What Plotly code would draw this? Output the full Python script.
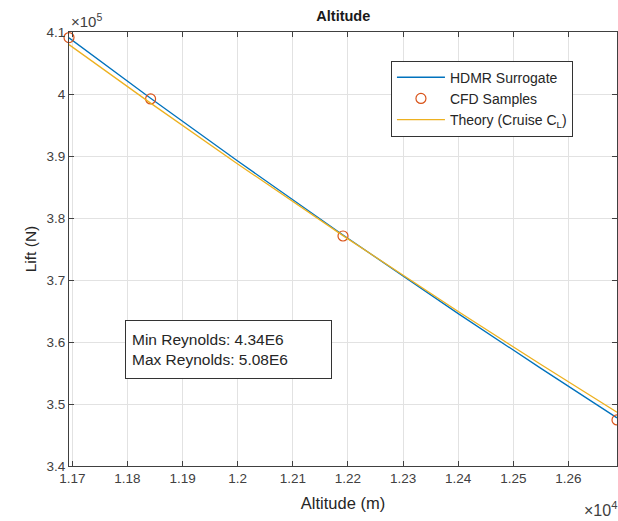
import plotly.graph_objects as go

# Altitude sweep: surrogate curve, CFD sample points and cruise-CL theory
altitude_curve = [11694, 11842, 12000, 12191, 12400, 12550, 12688]
hdmr_lift = [4.0906e5, 3.9933e5, 3.8919e5, 3.7726e5, 3.6458e5, 3.5574e5, 3.4777e5]
theory_lift = [4.0796e5, 3.9853e5, 3.8871e5, 3.7716e5, 3.6491e5, 3.5637e5, 3.4867e5]

cfd_altitude = [11694, 11842, 12191, 12688]
cfd_lift = [4.091e5, 3.992e5, 3.771e5, 3.4743e5]

x_ticks = [11700, 11800, 11900, 12000, 12100, 12200, 12300, 12400, 12500, 12600]
x_tick_text = ["1.17", "1.18", "1.19", "1.2", "1.21", "1.22", "1.23", "1.24", "1.25", "1.26"]
y_ticks = [3.4e5, 3.5e5, 3.6e5, 3.7e5, 3.8e5, 3.9e5, 4.0e5, 4.1e5]
y_tick_text = ["3.4", "3.5", "3.6", "3.7", "3.8", "3.9", "4", "4.1"]

BLUE = "#0072BD"
ORANGE = "#D95319"
YELLOW = "#EDB120"
AX = "#404040"
FONT = "Liberation Sans, Arial, sans-serif"

fig = go.Figure()
fig.add_trace(go.Scatter(x=altitude_curve, y=hdmr_lift, mode="lines",
                         line=dict(color=BLUE, width=1.3), name="HDMR Surrogate"))
fig.add_trace(go.Scatter(x=cfd_altitude, y=cfd_lift, mode="markers",
                         marker=dict(symbol="circle-open", size=10, color=ORANGE,
                                     line=dict(width=1.2, color=ORANGE)),
                         name="CFD Samples", cliponaxis=False))
fig.add_trace(go.Scatter(x=altitude_curve, y=theory_lift, mode="lines",
                         line=dict(color=YELLOW, width=1.3),
                         name="Theory (Cruise C<sub>L</sub>)"))

axis_common = dict(
    showline=True, linecolor=AX, linewidth=1.2, mirror="allticks",
    ticks="inside", ticklen=5, tickcolor=AX, tickwidth=1,
    showgrid=True, gridcolor="#e2e2e2", gridwidth=1, zeroline=False,
    tickfont=dict(family=FONT, size=13.5, color=AX),
)

fig.update_layout(
    width=618, height=521,
    margin=dict(l=69, r=1, t=32, b=55),
    paper_bgcolor="white", plot_bgcolor="white",
    font=dict(family=FONT, color="#262626"),
    title=dict(text="<b>Altitude</b>", x=0.5555, xanchor="center", y=0.969, yanchor="middle",
               font=dict(family=FONT, size=14.5, color="#1a1a1a")),
    xaxis=dict(range=[11694, 12688], tickvals=x_ticks, ticktext=x_tick_text,
               title=dict(text="Altitude (m)", font=dict(family=FONT, size=16.5, color="#262626"), standoff=12),
               **axis_common),
    yaxis=dict(range=[3.4e5, 4.1e5], tickvals=y_ticks, ticktext=y_tick_text,
               title=dict(text="Lift (N)", font=dict(family=FONT, size=15.5, color="#262626"), standoff=5),
               **axis_common),
    legend=dict(x=0.5875, y=0.934, xanchor="left", yanchor="top",
                bgcolor="white", bordercolor="#333333", borderwidth=1,
                font=dict(family=FONT, size=14, color="#262626"),
                tracegroupgap=0, itemwidth=48),
    showlegend=True,
)

fig.add_annotation(xref="paper", yref="paper", x=0.1014, y=0.3366, xanchor="left", yanchor="top",
                   text="Min Reynolds: 4.34E6<br>Max Reynolds: 5.08E6", align="left", valign="middle",
                   showarrow=False, width=193, height=45,
                   font=dict(family=FONT, size=15.5, color="#262626"),
                   bordercolor="#333333", borderwidth=1, borderpad=6, bgcolor="white")
fig.add_annotation(xref="paper", yref="paper", x=0.0, y=1.0, xanchor="left", yanchor="bottom",
                   text="×10<sup>5</sup>", showarrow=False,
                   font=dict(family=FONT, size=15, color=AX))
fig.add_annotation(xref="paper", yref="paper", x=1.0, y=-0.072, xanchor="right", yanchor="top",
                   text="×10<sup>4</sup>", showarrow=False, xshift=2,
                   font=dict(family=FONT, size=16, color=AX))

fig.write_html("out.html")
